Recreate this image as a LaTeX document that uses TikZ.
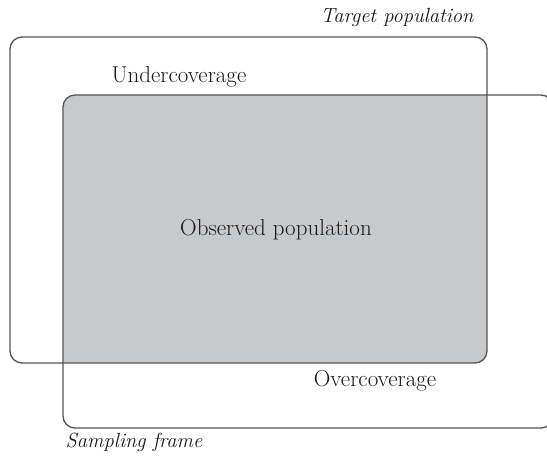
\documentclass[tikz,border=0pt]{standalone}
\definecolor{obsgray}{RGB}{200,201,203}
\definecolor{framegray}{RGB}{85,85,85}
\begin{document}
\begin{tikzpicture}[x=1pt,y=-1pt,
  frame/.style={draw=framegray,line width=1.3pt,rounded corners=12pt},
  lab/.style={anchor=base,font=\fontsize{23}{27}\selectfont,text=black!90},
  itlab/.style={anchor=base,font=\fontsize{20.5}{24}\selectfont\itshape,text=black!90}]
\useasboundingbox (0,0) rectangle (547,465);
\coordinate (T1) at (10,37);
\coordinate (T2) at (487,363);
\coordinate (S1) at (63,95);
\coordinate (S2) at (553,428);
% observed part = both frames
\begin{scope}
\clip[rounded corners=12pt] (T1) rectangle (T2);
\fill[obsgray,rounded corners=12pt] (S1) rectangle (S2);
\end{scope}
\draw[frame] (T1) rectangle (T2);
\draw[frame] (S1) rectangle (S2);
\node[itlab] (target) at (397,23) {Target population};
\node[lab] (under) at (179,83) {Undercoverage};
\node[lab] (observed) at (276,236) {Observed population};
\node[lab] (over) at (375,387) {Overcoverage};
\node[itlab] (frame) at (134,448) {Sampling frame};
\end{tikzpicture}
\end{document}
